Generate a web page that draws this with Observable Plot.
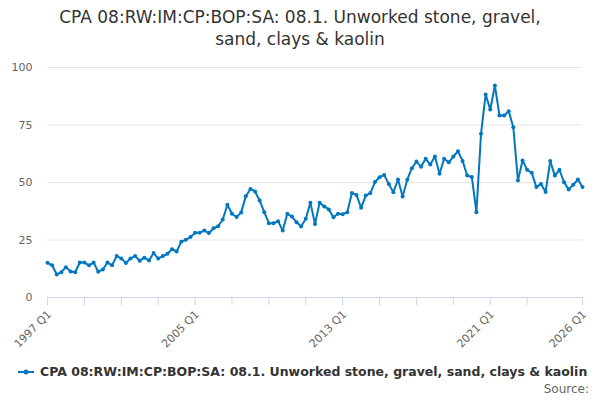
<!DOCTYPE html>
<html>
<head>
<meta charset="utf-8">
<script src="https://cdn.jsdelivr.net/npm/d3@7"></script>
<script src="https://cdn.jsdelivr.net/npm/@observablehq/plot@0.6"></script>
<style>
  html, body { margin: 0; padding: 0; background: #fff; }
  body { width: 600px; height: 400px; position: relative; font-family: "DejaVu Sans", sans-serif; overflow: hidden; }
  #title { position: absolute; left: 0; top: 6px; width: 600px; text-align: center; font-size: 17px; line-height: 22px; color: #333; }
  #chart { position: absolute; left: 0; top: 58px; }
  #legend { position: absolute; left: 18px; top: 364px; font-size: 12.5px; font-weight: bold; color: #333; display: flex; align-items: center; white-space: nowrap; }
  #source { position: absolute; right: 11px; top: 382px; font-size: 12px; color: #666; }
</style>
</head>
<body>
<div id="title">CPA 08:RW:IM:CP:BOP:SA: 08.1. Unworked stone, gravel,<br>sand, clays &amp; kaolin</div>
<div id="chart"></div>
<div id="legend"><svg width="18" height="10" style="margin-right:4px"><line x1="0" y1="5" x2="16" y2="5" stroke="#0077c0" stroke-width="2"/><circle cx="8" cy="5" r="2.5" fill="#0077c0"/></svg><span>CPA 08:RW:IM:CP:BOP:SA: 08.1. Unworked stone, gravel, sand, clays &amp; kaolin</span></div>
<div id="source">Source:</div>
<script>
const seriesName = "CPA 08:RW:IM:CP:BOP:SA: 08.1. Unworked stone, gravel, sand, clays & kaolin";
const firstYear = 1997;
const values = [
  15.1, 14.0, 10.0, 11.0, 13.2, 11.3, 11.0, 15.2, 15.2, 14.0,
  15.2, 11.2, 12.2, 15.2, 14.0, 18.0, 17.0, 15.0, 17.0, 18.0,
  16.0, 17.3, 16.1, 19.3, 17.0, 18.0, 19.0, 21.0, 20.0, 24.2,
  25.1, 26.3, 28.1, 28.2, 29.1, 28.0, 30.1, 31.0, 33.9, 40.3,
  36.4, 35.0, 37.0, 44.0, 47.2, 46.1, 42.2, 37.1, 32.3, 32.3,
  33.2, 29.1, 36.4, 35.2, 32.7, 30.9, 34.2, 41.2, 32.0, 41.2,
  39.6, 38.3, 34.9, 36.4, 36.2, 37.1, 45.4, 44.6, 39.0, 44.3,
  45.4, 50.2, 52.3, 53.3, 49.3, 45.8, 51.3, 43.9, 51.2, 56.2,
  59.1, 56.9, 60.3, 57.8, 61.3, 53.8, 60.3, 58.8, 61.3, 63.6,
  59.4, 53.0, 52.4, 37.1, 71.2, 88.3, 81.7, 92.2, 79.1, 79.1,
  81.0, 74.0, 50.9, 59.6, 55.5, 54.2, 48.0, 49.4, 45.9, 59.3,
  53.0, 55.5, 50.1, 47.0, 49.0, 51.3, 48.0
];
const periods = values.map((_, i) => `${firstYear + Math.floor(i / 4)} Q${(i % 4) + 1}`);
const xTickLabels = ["1997 Q1", "2005 Q1", "2013 Q1", "2021 Q1", "2026 Q1"];
const xTickMarks = ["1997 Q1", "1999 Q1", "2001 Q1", "2003 Q1", "2005 Q1", "2007 Q1", "2009 Q1", "2011 Q1", "2013 Q1", "2015 Q1", "2017 Q1", "2019 Q1", "2021 Q1", "2023 Q1", "2026 Q1"];
const yTicks = [0, 25, 50, 75, 100];

const data = values.map((v, i) => ({period: periods[i], idx: i, value: v}));
const idxOf = p => periods.indexOf(p);

const color = "#0077c0";
const chart = Plot.plot({
  width: 600,
  height: 290,
  marginLeft: 47,
  marginRight: 18,
  marginTop: 9,
  marginBottom: 51,
  style: {fontFamily: "DejaVu Sans, sans-serif", fontSize: "11px", color: "#666", background: "transparent", overflow: "visible"},
  x: {type: "linear", domain: [0, values.length - 1], axis: null},
  y: {domain: [0, 100], axis: null},
  marks: [
    Plot.gridY(yTicks.filter(d => d > 0), {stroke: "#e6e6e6", strokeOpacity: 1, strokeWidth: 1}),
    Plot.axisY({ticks: yTicks, tickSize: 0, tickPadding: 15, fontSize: 11, color: "#666", label: null}),
    Plot.axisX({ticks: xTickMarks.map(idxOf), tickSize: 8, tickFormat: () => "", stroke: "#ccd6eb", label: null}),
    Plot.ruleY([0], {stroke: "#ccd6eb", strokeWidth: 1}),
    Plot.text(xTickLabels, {x: d => idxOf(d), y: 0, text: d => d, rotate: -45, textAnchor: "end", dy: 15, dx: 2, fill: "#666", fontSize: 11}),
    Plot.line(data, {x: "idx", y: "value", stroke: color, strokeWidth: 2, title: "period"}),
    Plot.dot(data, {x: "idx", y: "value", fill: color, r: 2})
  ]
});
document.getElementById("chart").append(chart);
</script>
</body>
</html>
